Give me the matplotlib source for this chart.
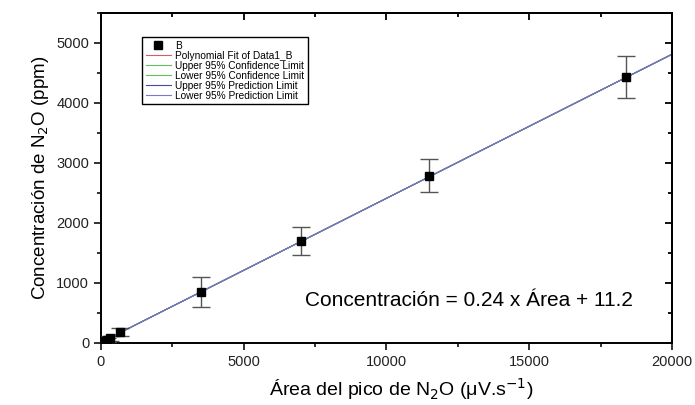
import matplotlib.pyplot as plt
from matplotlib.ticker import MultipleLocator, NullFormatter
from matplotlib.lines import Line2D

plt.rcParams['font.family'] = ['Liberation Sans', 'DejaVu Sans']

# data
area = [100, 200, 300, 650, 3500, 7000, 11500, 18400]
conc = [25, 50, 75, 180, 850, 1700, 2790, 4430]
err = [40, 40, 45, 70, 250, 240, 280, 350]

fit_x = [0, 20000]
fit_y = [11.2, 4811.2]
conf_up_y = [11.2, 4811.2]
conf_lo_y = [11.2, 4811.2]
pred_up_y = [11.2, 4811.2]
pred_lo_y = [11.2, 4811.2]

xt = [0, 5000, 10000, 15000, 20000]
yt = [0, 1000, 2000, 3000, 4000, 5000]

fig = plt.figure(figsize=(6.95, 4.05), dpi=100)
ax = fig.add_axes([0.1453, 0.1531, 0.8216, 0.815])

l1, = ax.plot(fit_x, fit_y, color='#d06060', lw=0.8)
l2, = ax.plot(fit_x, conf_up_y, color='#60c060', lw=0.8)
l3, = ax.plot(fit_x, conf_lo_y, color='#60c060', lw=0.8)
l4, = ax.plot(fit_x, pred_up_y, color='#4848a8', lw=0.8)
l5, = ax.plot(fit_x, pred_lo_y, color='#7a7ac8', lw=0.8)
ax.errorbar(area, conc, yerr=err, fmt='s', color='black', ms=6, ecolor='#555555',
            elinewidth=1, capsize=6.5, capthick=1, zorder=5)
mk = Line2D([], [], marker='s', ls='none', color='black', ms=6)

ax.set_xlim(0, 20000)
ax.set_ylim(0, 5500)
ax.set_xticks(xt)
ax.set_yticks(yt)
ax.xaxis.set_minor_locator(MultipleLocator(2500))
ax.yaxis.set_minor_locator(MultipleLocator(500))
ax.tick_params(which='both', direction='out', width=1.3, labelsize=10.5, colors='#222222')
ax.tick_params(which='major', length=5)
ax.tick_params(which='minor', length=3)
for s in ax.spines.values():
    s.set_linewidth(1.4)

# mirrored ticks on top / right point inward
sx = ax.secondary_xaxis('top')
sx.set_xticks(xt)
sx.xaxis.set_minor_locator(MultipleLocator(2500))
sx.xaxis.set_major_formatter(NullFormatter())
sx.tick_params(which='both', direction='in', width=1.3)
sx.tick_params(which='major', length=5)
sx.tick_params(which='minor', length=3)
sx.spines['top'].set_linewidth(1.4)
sy = ax.secondary_yaxis('right')
sy.set_yticks(yt)
sy.yaxis.set_minor_locator(MultipleLocator(500))
sy.yaxis.set_major_formatter(NullFormatter())
sy.tick_params(which='both', direction='in', width=1.3)
sy.tick_params(which='major', length=5)
sy.tick_params(which='minor', length=3)
sy.spines['right'].set_linewidth(1.4)

ax.set_xlabel('Área del pico de N$_2$O (μV.s$^{\\mathsf{-1}}$)', fontsize=14, labelpad=5, x=0.525)
ax.set_ylabel('Concentración de N$_2$O (ppm)', fontsize=13.5, labelpad=4)

ax.text(12890, 714, 'Concentración = 0.24 x Área + 11.2', fontsize=15, ha='center', va='center')

ax.legend([mk, l1, l2, l3, l4, l5],
          ['B', 'Polynomial Fit of Data1_B', 'Upper 95% Confidence Limit',
           'Lower 95% Confidence Limit', 'Upper 95% Prediction Limit',
           'Lower 95% Prediction Limit'],
          loc='upper left', bbox_to_anchor=(0.072, 0.927), fontsize=7.3, frameon=True,
          fancybox=False, edgecolor='black', handlelength=2.5, handletextpad=0.4,
          labelspacing=0.0, borderpad=0.35, borderaxespad=0, framealpha=1)

plt.savefig('out.png', dpi=100)
